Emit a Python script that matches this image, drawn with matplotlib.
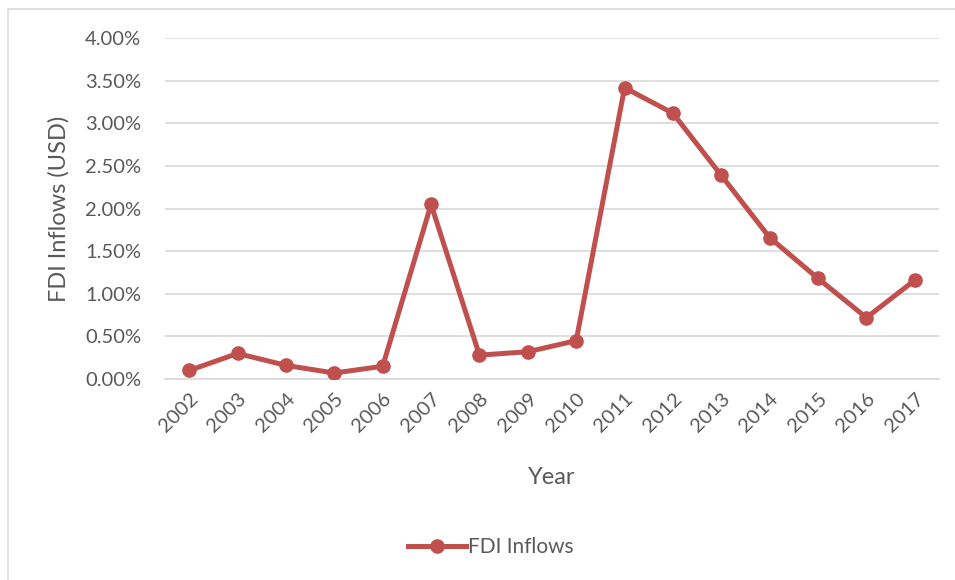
import matplotlib
matplotlib.use("Agg")
import matplotlib.pyplot as plt
from matplotlib.patches import Rectangle
from matplotlib.ticker import PercentFormatter
from matplotlib.lines import Line2D

years = ["2002", "2003", "2004", "2005", "2006", "2007", "2008", "2009",
         "2010", "2011", "2012", "2013", "2014", "2015", "2016", "2017"]
fdi_inflows = [0.10, 0.30, 0.16, 0.07, 0.15, 2.05, 0.28, 0.32,
               0.45, 3.42, 3.12, 2.39, 1.66, 1.18, 0.72, 1.16]
y_ticks = [0.0, 0.5, 1.0, 1.5, 2.0, 2.5, 3.0, 3.5, 4.0]

W, H = 955, 580
fig = plt.figure(figsize=(W / 100, H / 100), dpi=100)
plt.rcParams['font.family'] = ['Lato', 'DejaVu Sans']

text_color = "#595959"
line_color = "#C0504D"

# chart area border
fig.patches.append(Rectangle((8 / W, -0.1), 1.2, 1 - 9 / H + 0.1,
                             transform=fig.transFigure, fill=False,
                             edgecolor="#D9D9D9", linewidth=1.2))

ax = fig.add_axes([165 / W, 1 - 379 / H, (939 - 165) / W, (379 - 38.3) / H])
x = list(range(len(years)))
ax.plot(x, fdi_inflows, color=line_color, linewidth=3.6, marker="o",
        markersize=9.5, solid_capstyle="round", zorder=3)

ax.set_xlim(-0.5, len(years) - 0.5)
ax.set_ylim(0, 4.0)
ax.set_yticks(y_ticks)
ax.yaxis.set_major_formatter(PercentFormatter(decimals=2))
ax.set_xticks(x)
ax.set_xticklabels(years, rotation=45, ha="right", rotation_mode="anchor")

ax.grid(axis="y", color="#D9D9D9", linewidth=1.2)
ax.set_axisbelow(True)
for s in ["top", "right", "left"]:
    ax.spines[s].set_visible(False)
ax.spines["bottom"].set_color("#D9D9D9")
ax.spines["bottom"].set_linewidth(1.2)
ax.tick_params(axis="both", length=0, colors=text_color, labelsize=14.5)
ax.tick_params(axis="y", pad=17)
ax.tick_params(axis="x", pad=8)

ax.set_xlabel("Year", color=text_color, fontsize=17, labelpad=23)
ax.set_ylabel("FDI Inflows (USD)", color=text_color, fontsize=17, labelpad=11)

handle = Line2D([], [], color=line_color, linewidth=3.6, marker="o", markersize=9.5)
fig.legend([handle], ["FDI Inflows"], loc="center", bbox_to_anchor=(491 / W, 1 - 547 / H),
           frameon=False, fontsize=15, labelcolor=text_color, handlelength=2.8,
           handletextpad=0.1)

fig.savefig("out.png", dpi=100)
